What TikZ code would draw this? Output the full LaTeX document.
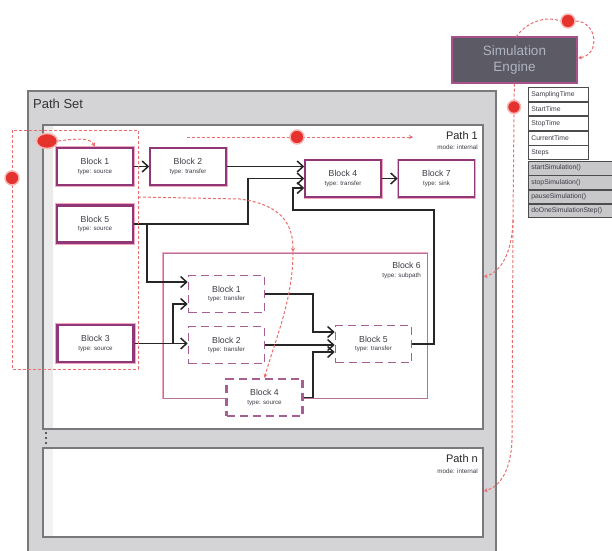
\documentclass[tikz,border=0pt]{standalone}
\usepackage{fontspec}
\setmainfont{Liberation Sans}
\usetikzlibrary{arrows.meta,calc,shapes.geometric}
\definecolor{blkc}{RGB}{145,55,120}
\definecolor{pinkc}{RGB}{240,170,190}
\definecolor{txtc}{RGB}{60,60,70}
\definecolor{redc}{RGB}{230,50,45}
\definecolor{redl}{RGB}{235,110,110}
\definecolor{engf}{RGB}{92,90,100}
\definecolor{engb}{RGB}{170,80,140}
\definecolor{engt}{RGB}{175,180,195}
\definecolor{psf}{RGB}{212,212,214}
\definecolor{psb}{RGB}{120,120,125}
\definecolor{methf}{RGB}{200,200,203}
\newcommand{\typetxt}[1]{{\fontsize{6.2}{7}\selectfont #1}}
\begin{document}
\begin{tikzpicture}[x=1pt,y=-1pt,
  blk/.style={draw=blkc, line width=1.5pt, fill=white, minimum width=76pt, minimum height=37pt,
    align=center, inner sep=0pt, font=\fontsize{8.7}{9.5}\selectfont, text=txtc,
    preaction={draw=pinkc, line width=3pt}},
  srcblk/.style={draw=blkc, line width=2.6pt, fill=white, minimum width=76pt, minimum height=37pt,
    align=center, inner sep=0pt, font=\fontsize{8.7}{9.5}\selectfont, text=txtc,
    preaction={draw=pinkc, line width=4.2pt}},
  dblk/.style={draw=blkc!80, line width=1.6pt, fill=white, dash pattern=on 8pt off 5pt,
    minimum width=76pt, minimum height=37pt,
    align=center, inner sep=0pt, font=\fontsize{8.7}{9.5}\selectfont, text=txtc},
  arr/.style={draw=black!85, line width=1.8pt, -{Straight Barb[length=6pt,width=11pt,line width=1.5pt]}},
  rd/.style={draw=redl, dash pattern=on 3pt off 2pt, line width=1pt},
  rdarr/.style={rd, -{Stealth[length=4pt,width=4pt]}},
  rc/.style={circle, fill=redc, draw=redc!35, line width=1.5pt, minimum size=12pt, inner sep=0pt},
  row/.style={draw=black!70, line width=0.8pt, fill=white, text width=54pt, align=left,
    inner xsep=3pt, inner ysep=0pt, minimum height=13.8pt, font=\fontsize{6.8}{7.5}\selectfont, text=txtc, anchor=north west},
  mrow/.style={row, fill=methf, text width=78pt, minimum height=13.5pt},
  tsmall/.style={font=\fontsize{6.3}{7}\selectfont, text=txtc, inner sep=0pt},
  pathbox/.style={draw=psb, line width=1.4pt, fill=white, inner sep=0pt}
]
\useasboundingbox (0,0) rectangle (612,550);

% Path Set
\node[draw=psb, line width=1.4pt, fill=psf, minimum width=468pt, minimum height=462pt, inner sep=0pt] (pset) at (262,322) {};
\node[anchor=west, font=\fontsize{13}{15}\selectfont, text=black!80, inner sep=0pt] (psetl) at (33,104) {Path Set};

% Path 1
\node[pathbox, minimum width=440pt, minimum height=304pt] (p1) at (263,277) {};
\fill[black!8] (44,126) rectangle (53,428);
\node[anchor=east, font=\fontsize{11}{13}\selectfont, text=black!85, inner sep=0pt] (p1l) at (478,136) {Path 1};
\node[tsmall, anchor=east] (p1m) at (478,147.5) {mode: internal};

% dots
\fill[black!80] (46,433) circle (1.1) (46,438) circle (1.1) (46,443) circle (1.1);

% Path n
\node[pathbox, minimum width=440pt, minimum height=89pt] (pn) at (263,492.5) {};
\fill[black!5] (44,449) rectangle (53,536);
\node[anchor=east, font=\fontsize{11}{13}\selectfont, text=black!85, inner sep=0pt] (pnl) at (478,459) {Path n};
\node[tsmall, anchor=east] (pnm) at (478,471) {mode: internal};

% Block 6 subpath
\node[draw=blkc!70, line width=1pt, fill=white, minimum width=264pt, minimum height=145pt, inner sep=0pt,
  preaction={draw=pinkc, line width=2.6pt}] (b6) at (295,325.5) {};
\node[anchor=east, font=\fontsize{8.7}{9.5}\selectfont, text=txtc, inner sep=0pt] (b6l) at (421,265) {Block 6};
\node[tsmall, anchor=east] (b6m) at (421,276) {type: subpath};

% Blocks in Path 1
\node[srcblk] (b1) at (95,166.5) {Block 1\\[-1pt]\typetxt{type: source}};
\node[blk] (b2) at (188,166.5) {Block 2\\[-1pt]\typetxt{type: transfer}};
\node[srcblk] (b5) at (95,224) {Block 5\\[-1pt]\typetxt{type: source}};
\node[srcblk] (b3) at (95.5,343.5) {Block 3\\[-1pt]\typetxt{type: source}};
\node[blk] (b4) at (343,178.5) {Block 4\\[-1pt]\typetxt{type: transfer}};
\node[blk] (b7) at (436.5,178.5) {Block 7\\[-1pt]\typetxt{type: sink}};

% Blocks inside Block 6
\node[dblk] (ib1) at (226.5,294) {Block 1\\[-1pt]\typetxt{type: transfer}};
\node[dblk] (ib2) at (226.5,345) {Block 2\\[-1pt]\typetxt{type: transfer}};
\node[dblk] (ib5) at (373.5,344) {Block 5\\[-1pt]\typetxt{type: transfer}};
\node[dblk, line width=2.3pt] (ib4) at (264.5,397.5) {Block 4\\[-1pt]\typetxt{type: source}};

% Connectors
\draw[arr] (b1.east) -- (b2.west);
\draw[arr] (b2.east) -- (b2.east -| b4.west);
\draw[arr] (b5.east) -| (248,178.5) -- (b4.west);
\draw[arr] (b5.east) -- (147,224) -- (147,282) -- (ib1.west |- 0,282);
\draw[arr] (b3.east) -- (b3.east -| ib2.west);
\draw[arr] (173,343.5) -- (173,304) -- (ib1.west |- 0,304);
\draw[arr] (ib1.east) -| (313,332) -- (ib5.west |- 0,332);
\draw[arr] (ib2.east) -- (ib2.east -| ib5.west);
\draw[arr] (ib4.east) -| (313,352) -- (ib5.west |- 0,352);
\draw[arr] (ib5.east) -| (434,210) -| (293,188) -- (b4.west |- 0,188);
\draw[arr] (b4.east) -- (b7.west);

% Simulation engine
\node[draw=engb, line width=1.3pt, fill=engf, minimum width=125pt, minimum height=46pt, inner sep=0pt,
  text=engt, font=\fontsize{13.5}{16}\selectfont, align=center] (eng) at (514.5,60) {Simulation\\Engine};

% attribute table
\node[row] (a1) at (528,87) {SamplingTime};
\node[row] (a2) at (a1.south west) {StartTime};
\node[row] (a3) at (a2.south west) {StopTime};
\node[row] (a4) at (a3.south west) {CurrentTime};
\node[row] (a5) at (a4.south west) {Steps};
% methods table
\node[mrow] (m1) at (528,161) {startSimulation()};
\node[mrow] (m2) at (m1.south west) {stopSimulation()};
\node[mrow] (m3) at (m2.south west) {pauseSimulation()};
\node[mrow] (m4) at (m3.south west) {doOneSimulationStep()};

% red dashed annotations
\draw[rd] (12,130) rectangle (138,369);
\node[rc, minimum size=14pt] (c1) at (12,178) {};
\node[rc, ellipse, minimum width=21pt, minimum height=15pt] (c2) at (47,141) {};
\draw[rdarr] (c2.east) .. controls (80,138) and (90,138) .. (b1.north);
\coordinate (t1) at (187,137);
\coordinate (t2) at (413,137);
\draw[rdarr] (t1) -- (t2);
\node[rc, minimum size=14pt] (c3) at (297,137) {};
\coordinate (g1) at (138,197);
\coordinate (g2) at (293,252);
\draw[rdarr] (g1) -- (240,199) .. controls (283,205) and (293,225) .. (g2);
\draw[rdarr] (g2) .. controls (293,300) and (275,340) .. (ib4.north);

% engine self loop
\node[rc, minimum size=14pt] (c4) at (568,21) {};
\coordinate (e1) at (516,37);
\coordinate (e2) at (578,58);
\draw[rd] (e1) .. controls (528,20) and (548,16) .. (c4.west);
\draw[rdarr] (c4.east) .. controls (598,22) and (600,55) .. (e2);

% engine to paths
\node[rc, minimum size=13pt] (c5) at (514,107) {};
\coordinate (v1) at (513,220);
\coordinate (v2) at (512,440);
\draw[rd] (eng.south) -- (c5.north);
\draw[rd] (c5.south) -- (v1);
\draw[rdarr] (v1) .. controls (512,255) and (500,272) .. (p1.east |- 0,277);
\draw[rd] (v1) -- (v2);
\draw[rdarr] (v2) .. controls (511,470) and (500,487) .. (pn.east |- 0,491);
\end{tikzpicture}
\end{document}
